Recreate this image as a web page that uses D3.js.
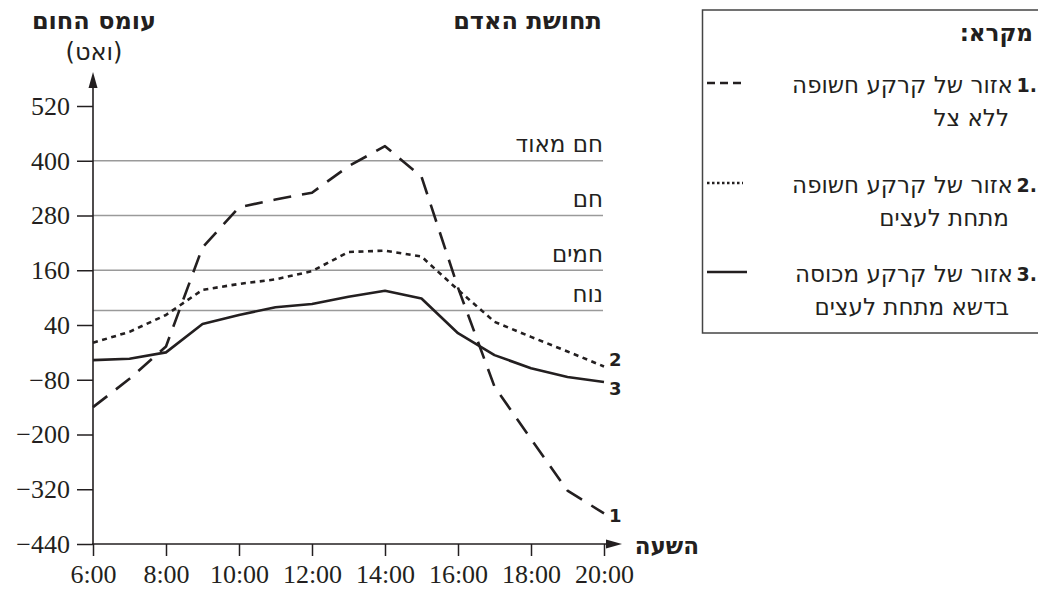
<!DOCTYPE html>
<html>
<head>
<meta charset="utf-8">
<script src="https://cdn.jsdelivr.net/npm/d3@7"></script>
<style>
  body { margin: 0; background: #fff; }
  svg { display: block; }
  .tick text { font-family: "Liberation Serif", "Times New Roman", Tinos, "DejaVu Serif", serif; }
</style>
</head>
<body>
<svg id="chart"></svg>
<script>
// hours 6:00 - 20:00
var hours = [6, 7, 8, 9, 10, 11, 12, 13, 14, 15, 16, 17, 18, 19, 20]
// heat load (watt) per area
var bareSun = [-140, -78, -7, 210, 298, 315, 330, 388, 432, 365, 122, -95, -210, -323, -373]
var bareShade = [1, 25, 62, 117, 130, 140, 158, 200, 203, 190, 117, 47, 14, -18, -51]
var grassShade = [-37, -34, -20, 42, 62, 79, 86, 102, 115, 98, 22, -26, -55, -74, -85]

var yTicks = [-440, -320, -200, -80, 40, 160, 280, 400, 520]
var xTicks = [6, 8, 10, 12, 14, 16, 18, 20]
var feelLevels = [400, 280, 160, 72]
var feelNames = ["חם מאוד", "חם", "חמים", "נוח"]
var seriesIds = ["1", "2", "3"]

var dimensions = { width: 1038, height: 596 }
var hebFont = "'DejaVu Sans', 'Liberation Sans', sans-serif"
var numFont = "Liberation Serif"
var ink = "#231f20"

var svg = d3.select("#chart")
  .attr("width", dimensions.width)
  .attr("height", dimensions.height)

var xScale = d3.scaleLinear().domain([6, 20]).range([93, 604])
var yScale = d3.scaleLinear().domain([-440, 520]).range([544, 106])

function hebText(sel, x, y, size, bold, str) {
  return sel.append("text")
    .attr("x", x).attr("y", y)
    .attr("direction", "rtl")
    .attr("text-anchor", "start")
    .attr("dominant-baseline", "middle")
    .style("font-family", hebFont)
    .style("font-size", size + "px")
    .style("font-weight", bold ? "bold" : "normal")
    .attr("fill", ink)
    .text(str)
}

// comfort gridlines
feelLevels.forEach(function (lv, i) {
  svg.append("line")
    .attr("x1", xScale(6)).attr("x2", 603)
    .attr("y1", yScale(lv)).attr("y2", yScale(lv))
    .attr("stroke", "#9a9a9a").attr("stroke-width", 1.5)
  hebText(svg, 603, yScale(lv) - 15, 23, false, feelNames[i])
})

// y axis
var yAxisgen = d3.axisLeft(yScale).tickValues(yTicks).tickSize(16).tickPadding(7)
  .tickFormat(d => d < 0 ? "\u2212" + Math.abs(d) : d)
var yAxis = svg.append("g")
  .attr("transform", "translate(93,0)")
  .call(yAxisgen)
  .attr("font-family", numFont)
  .attr("font-size", 26)
yAxis.select(".domain").remove()
yAxis.selectAll("line").attr("stroke", ink).attr("stroke-width", 1.5)
yAxis.selectAll("text").attr("fill", ink)

// x axis
var xAxisgen = d3.axisBottom(xScale).tickValues(xTicks).tickSize(12).tickPadding(9)
  .tickFormat(d => d + ":00")
var xAxis = svg.append("g")
  .attr("transform", "translate(0,544)")
  .call(xAxisgen)
  .attr("font-family", numFont)
  .attr("font-size", 26)
xAxis.select(".domain").remove()
xAxis.selectAll("line").attr("stroke", ink).attr("stroke-width", 1.5)
xAxis.selectAll("text").attr("fill", ink)

// axis lines with arrows
svg.append("line").attr("x1", 93).attr("x2", 93).attr("y1", 545).attr("y2", 84)
  .attr("stroke", ink).attr("stroke-width", 1.6)
svg.append("path").attr("d", "M93,72 L88.5,88 L97.5,88 Z").attr("fill", ink)
svg.append("line").attr("x1", 92).attr("x2", 612).attr("y1", 544).attr("y2", 544)
  .attr("stroke", ink).attr("stroke-width", 1.6)
svg.append("path").attr("d", "M622,544 L606,539.5 L606,548.5 Z").attr("fill", ink)

// titles
hebText(svg, 94, 22, 24, true, "עומס החום").attr("text-anchor", "middle")
hebText(svg, 94, 53, 24, false, "(ואט)").attr("text-anchor", "middle")
hebText(svg, 602, 22, 24, true, "תחושת האדם")
hebText(svg, 699, 547, 23, true, "השעה")

// lines
var series = [
  { id: "1", vals: bareSun, dash: "18,11" },
  { id: "2", vals: bareShade, dash: "5,4.5" },
  { id: "3", vals: grassShade, dash: null }
]
var lineGen = d3.line()
  .x((d, i) => xScale(hours[i]))
  .y(d => yScale(d))

series.forEach(function (s) {
  svg.append("path")
    .datum(s.vals)
    .attr("d", lineGen)
    .attr("fill", "none")
    .attr("stroke", ink)
    .attr("stroke-width", 2.6)
    .attr("stroke-linejoin", "round")
    .attr("stroke-dasharray", s.dash)
})

// end labels
var endOffsets = { "1": 4, "2": -6, "3": 8 }
series.forEach(function (s) {
  svg.append("text")
    .attr("x", 609).attr("y", yScale(s.vals[s.vals.length - 1]) + endOffsets[s.id])
    .attr("dominant-baseline", "middle")
    .style("font-family", hebFont).style("font-size", "18px").style("font-weight", "bold")
    .attr("fill", ink)
    .text(s.id)
})

// legend
var legend = svg.append("g")
legend.append("rect")
  .attr("x", 702.5).attr("y", 10).attr("width", 340).attr("height", 323)
  .attr("fill", "none").attr("stroke", "#444").attr("stroke-width", 1.5)
hebText(legend, 1033, 34, 23, true, "מקרא:")

var legendFirst = ["אזור של קרקע חשופה", "אזור של קרקע חשופה", "אזור של קרקע מכוסה"]
var legendSecond = ["ללא צל", "מתחת לעצים", "בדשא מתחת לעצים"]
var legendRowY = [86, 186, 275]
var legendDash = ["8,5", "2.5,2.5", null]

seriesIds.forEach(function (id, i) {
  var yy = legendRowY[i]
  legend.append("text")
    .attr("x", 1037).attr("y", yy).attr("text-anchor", "end").attr("dominant-baseline", "middle")
    .style("font-family", hebFont).style("font-size", "19px").style("font-weight", "bold")
    .attr("fill", ink)
    .text(id + ".")
  hebText(legend, 1013, yy, 23, false, legendFirst[i])
  hebText(legend, 1009, yy + 33, 23, false, legendSecond[i])
  legend.append("line")
    .attr("x1", 707).attr("x2", i == 2 ? 747 : 743)
    .attr("y1", yy - 3).attr("y2", yy - 3)
    .attr("stroke", ink).attr("stroke-width", 2.4)
    .attr("stroke-dasharray", legendDash[i])
})
</script>
</body>
</html>
